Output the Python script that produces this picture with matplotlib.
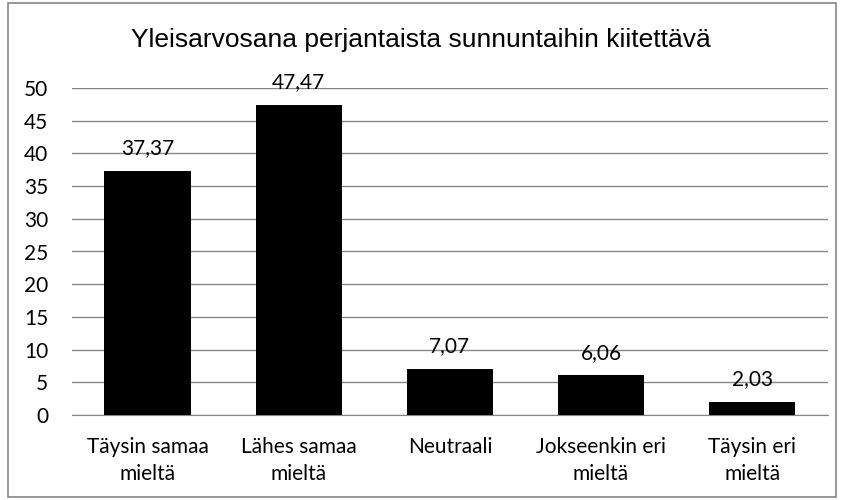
import matplotlib.pyplot as plt
from matplotlib.patches import Rectangle

categories = ['Täysin samaa\nmieltä', 'Lähes samaa\nmieltä', 'Neutraali',
              'Jokseenkin eri\nmieltä', 'Täysin eri\nmieltä']
values = [37.37, 47.47, 7.07, 6.06, 2.03]
labels = ['37,37', '47,47', '7,07', '6,06', '2,03']
yticks = [0, 5, 10, 15, 20, 25, 30, 35, 40, 45, 50]

fig = plt.figure(figsize=(8.42, 5), dpi=100)
ax = fig.add_axes([0.0855, 0.17, 0.8975, 0.654])

# outer chart border like the spreadsheet frame
fig.patches.append(Rectangle((0.0095, 0.006), 0.983, 0.988, transform=fig.transFigure,
                             fill=False, edgecolor='#868686', linewidth=1.2))

x = range(len(values))
bars = ax.bar(x, values, width=0.57, color='black', zorder=3)
for b, lab in zip(bars, labels):
    ax.annotate(lab, (b.get_x() + b.get_width() / 2, b.get_height()),
                xytext=(0, 9), textcoords='offset points', ha='center', va='bottom',
                fontsize=15, family='Lato')

ax.set_xlim(-0.5, len(values) - 0.5)
ax.set_ylim(0, 50)
ax.set_yticks(yticks)
ax.set_yticklabels([str(t) for t in yticks], family='Lato', fontsize=15)
ax.set_xticks(list(x))
ax.set_xticklabels(categories, family='Lato', fontsize=15, linespacing=1.45)
ax.tick_params(axis='y', length=0, pad=17)
ax.tick_params(axis='x', length=0, pad=16)
ax.grid(axis='y', color='#868686', linewidth=1, zorder=0)
for s in ['top', 'right', 'left']:
    ax.spines[s].set_visible(False)
ax.spines['bottom'].set_color('#868686')

fig.text(0.5, 0.906, 'Yleisarvosana perjantaista sunnuntaihin kiitettävä',
         ha='center', va='baseline', fontsize=19, family='Liberation Sans')

fig.savefig('out.png', dpi=100)
